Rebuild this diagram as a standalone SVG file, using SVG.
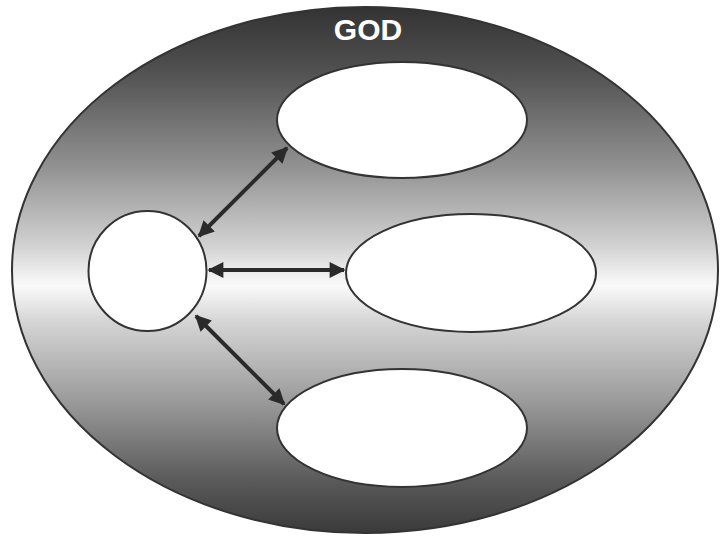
<svg xmlns="http://www.w3.org/2000/svg" width="720" height="537" viewBox="0 0 720 537">
<defs>
<linearGradient id="bg" x1="0" y1="0" x2="0" y2="1">
<stop offset="0" stop-color="#333"/>
<stop offset="0.12" stop-color="#505050"/>
<stop offset="0.3" stop-color="#909090"/>
<stop offset="0.45" stop-color="#d0d0d0"/>
<stop offset="0.53" stop-color="#fafafa"/>
<stop offset="0.6" stop-color="#d4d4d4"/>
<stop offset="0.75" stop-color="#9a9a9a"/>
<stop offset="0.9" stop-color="#5a5a5a"/>
<stop offset="1" stop-color="#3a3a3a"/>
</linearGradient>
<marker id="ah" viewBox="0 0 10 10" refX="9" refY="5" markerWidth="4.5" markerHeight="4" orient="auto-start-reverse" markerUnits="strokeWidth">
<path d="M0,0 L10,5 L0,10 z" fill="#2a2a2a"/>
</marker>
</defs>
<style>
.node{fill:#fff;stroke:#333;stroke-width:2}
.conn{stroke:#2a2a2a;stroke-width:4;fill:none;marker-start:url(#ah);marker-end:url(#ah)}
.title{font-family:"Liberation Sans",Arial,sans-serif;font-weight:bold;font-size:30px;fill:#fff}
</style>
<g id="god">
<ellipse cx="365" cy="270" rx="353" ry="263" fill="url(#bg)" stroke="#333" stroke-width="2"/>
<text class="title" x="368" y="40" text-anchor="middle">GOD</text>
</g>
<g id="self"><ellipse class="node" cx="147.5" cy="271" rx="59" ry="60"/></g>
<g id="top"><ellipse class="node" cx="402" cy="120" rx="125" ry="58"/></g>
<g id="middle"><ellipse class="node" cx="471" cy="273" rx="125" ry="59"/></g>
<g id="bottom"><ellipse class="node" cx="402" cy="428" rx="125" ry="59"/></g>
<g id="connectors">
<line class="conn" x1="199" y1="236" x2="287" y2="148"/>
<line class="conn" x1="209" y1="270" x2="344" y2="270"/>
<line class="conn" x1="196" y1="316" x2="284" y2="404"/>
</g>
</svg>
